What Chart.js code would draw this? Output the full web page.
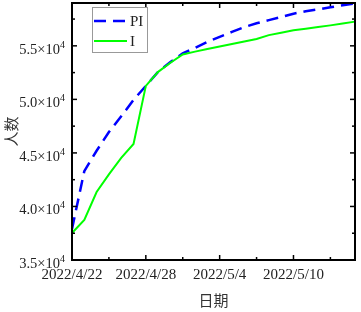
<!DOCTYPE html>
<html>
<head>
<meta charset="utf-8">
<script src="https://cdn.jsdelivr.net/npm/chart.js@4"></script>
<style>
  html, body { margin: 0; padding: 0; background: #fff; }
  canvas { display: block; }
</style>
</head>
<body>
<canvas id="chart" width="361" height="312"></canvas>
<script>
// one entry per day, 2022/4/22 .. 2022/5/15
const dates = [
    '2022/4/22', '2022/4/23', '2022/4/24', '2022/4/25', '2022/4/26', '2022/4/27',
    '2022/4/28', '2022/4/29', '2022/4/30', '2022/5/1', '2022/5/2', '2022/5/3',
    '2022/5/4', '2022/5/5', '2022/5/6', '2022/5/7', '2022/5/8', '2022/5/9',
    '2022/5/10', '2022/5/11', '2022/5/12', '2022/5/13', '2022/5/14', '2022/5/15'
];

const piValues = [
    37900, 43300, 45200, 46950, 48420, 49950,
    51260, 52570, 53480, 54300, 54800, 55370,
    55840, 56300, 56750, 57110, 57400, 57690,
    58000, 58230, 58400, 58600, 58790, 58950
];

const iValues = [
    37520, 38740, 41350, 43000, 44530, 45840,
    51260, 52570, 53420, 54200, 54460, 54700,
    54930, 55170, 55410, 55640, 56000, 56220,
    56450, 56590, 56750, 56910, 57090, 57260
];

const yMajorTicks = [35000, 40000, 45000, 50000, 55000];
const yMinorTicks = [37500, 42500, 47500, 52500, 57500];
const xLabelEvery = 6;
const xMinorEvery = 3;

const SERIF = '"Liberation Serif", "Times New Roman", serif';
const CJK = '"Noto Sans CJK SC", sans-serif';

// box, inward ticks on all four sides and the y labels with a superscript
const frameAndTicks = {
    id: 'frameAndTicks',
    afterDraw(chart) {
        const { ctx, chartArea: a, scales: { x, y } } = chart;
        const line = (x1, y1, x2, y2) => {
            ctx.beginPath();
            ctx.moveTo(x1, y1);
            ctx.lineTo(x2, y2);
            ctx.stroke();
        };
        ctx.save();
        ctx.strokeStyle = '#000';
        ctx.lineWidth = 1.5;

        for (let i = 0; i < dates.length; i += xMinorEvery) {
            const px = x.getPixelForValue(i);
            const len = i % xLabelEvery === 0 ? 5 : 3;
            line(px, a.bottom, px, a.bottom - len);
            line(px, a.top, px, a.top + len);
        }
        yMajorTicks.concat(yMinorTicks).forEach(v => {
            const py = y.getPixelForValue(v);
            const len = yMajorTicks.includes(v) ? 5 : 3;
            line(a.left, py, a.left + len, py);
            line(a.right, py, a.right - len, py);
        });

        ctx.lineWidth = 2;
        ctx.strokeRect(a.left, a.top, a.right - a.left, a.bottom - a.top);

        // y tick labels: "5.5×10" + superscript 4
        ctx.fillStyle = '#222';
        yMajorTicks.forEach(v => {
            const py = y.getPixelForValue(v);
            ctx.font = '14.5px ' + SERIF;
            ctx.textAlign = 'right';
            ctx.textBaseline = 'alphabetic';
            ctx.fillText((v / 1e4).toFixed(1) + '×10', 60, py + 8);
            ctx.font = '10px ' + SERIF;
            ctx.textAlign = 'left';
            ctx.fillText('4', 60, py + 2);
        });
        ctx.restore();
    }
};

// legend drawn inside the plot, top left
const insideLegend = {
    id: 'insideLegend',
    afterDraw(chart) {
        const ctx = chart.ctx;
        const box = { x: 92, y: 7, w: 55, h: 45 };
        ctx.save();
        ctx.fillStyle = '#fff';
        ctx.fillRect(box.x, box.y, box.w, box.h);
        ctx.strokeStyle = '#999';
        ctx.lineWidth = 1;
        ctx.strokeRect(box.x + 0.5, box.y + 0.5, box.w, box.h);

        chart.data.datasets.forEach((ds, i) => {
            const ly = box.y + 14 + i * 20;
            ctx.strokeStyle = ds.borderColor;
            ctx.lineWidth = ds.borderWidth;
            ctx.setLineDash(ds.borderDash || []);
            ctx.beginPath();
            ctx.moveTo(box.x + 2, ly);
            ctx.lineTo(box.x + 35, ly);
            ctx.stroke();
            ctx.setLineDash([]);
            ctx.fillStyle = '#222';
            ctx.font = '15px ' + SERIF;
            ctx.textAlign = 'left';
            ctx.textBaseline = 'middle';
            ctx.fillText(ds.label, box.x + 38, ly + 1);
        });
        ctx.restore();
    }
};

new Chart(document.getElementById('chart'), {
    type: 'line',
    data: {
        labels: dates,
        datasets: [
            {
                label: 'PI',
                data: piValues,
                borderColor: '#0000ff',
                borderWidth: 2.5,
                borderDash: [12, 7],
                pointRadius: 0,
                tension: 0,
                fill: false,
                order: 1
            },
            {
                label: 'I',
                data: iValues,
                borderColor: '#00ff00',
                borderWidth: 2,
                pointRadius: 0,
                tension: 0,
                fill: false,
                order: 0
            }
        ]
    },
    options: {
        responsive: false,
        animation: false,
        layout: { padding: { top: 3, right: 2, left: 0, bottom: 0 } },
        plugins: {
            legend: { display: false },
            tooltip: { enabled: false }
        },
        scales: {
            x: {
                type: 'category',
                offset: false,
                grid: { display: false, drawTicks: false },
                border: { display: false },
                ticks: {
                    autoSkip: false,
                    maxRotation: 0,
                    padding: 6,
                    color: '#222',
                    font: { family: SERIF, size: 15 },
                    callback: (v, i) => (i % xLabelEvery === 0 ? dates[i] : '')
                },
                title: {
                    display: true,
                    text: '日期',
                    color: '#333',
                    font: { family: CJK, size: 15 },
                    padding: { top: 0, bottom: 3 }
                },
                afterFit: s => { s.height = 52; }
            },
            y: {
                min: 35000,
                max: 59000,
                grid: { display: false, drawTicks: false },
                border: { display: false },
                ticks: { display: false },
                title: {
                    display: true,
                    text: '人数',
                    color: '#333',
                    font: { family: CJK, size: 15 },
                    padding: { top: 2, bottom: 0 }
                },
                afterFit: s => { s.width = 72; }
            }
        }
    },
    plugins: [frameAndTicks, insideLegend]
});
</script>
</body>
</html>
